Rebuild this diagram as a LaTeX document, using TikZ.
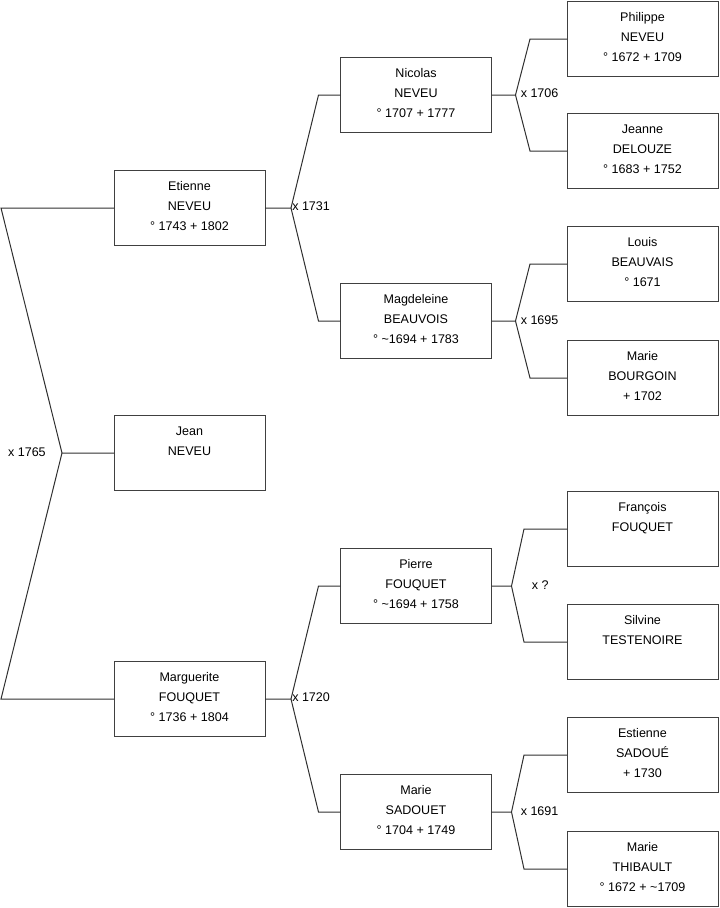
\documentclass[tikz,border=0pt]{standalone}
\usepackage{fontspec}
\setmainfont{Liberation Sans}
\usetikzlibrary{calc}
\definecolor{boxline}{HTML}{404040}
\definecolor{linkline}{HTML}{303030}
\tikzset{
  person/.style={draw=boxline,line width=0.75pt,minimum width=113.25pt,minimum height=56.25pt,
    inner sep=0pt,outer sep=0pt,align=center,text depth=3pt,font=\fontsize{9.4}{15}\selectfont},
  link/.style={linkline,line width=0.75pt},
  wedding/.style={inner sep=1.5pt,font=\fontsize{9.4}{11}\selectfont}
}

\begin{document}
\begin{tikzpicture}[x=0.75pt,y=-0.75pt]
\useasboundingbox (0,0) rectangle (719,908);
% generation 1 and 2
\node[person] (etienne) at (189.5,208) {Etienne\\NEVEU\\° 1743 + 1802};
\node[person] (jean) at (189.5,453) {Jean\\NEVEU\\~};
\node[person] (marguerite) at (189.5,699) {Marguerite\\FOUQUET\\° 1736 + 1804};
% generation 3
\node[person] (nicolas) at (416,95) {Nicolas\\NEVEU\\° 1707 + 1777};
\node[person] (magdeleine) at (416,321) {Magdeleine\\BEAUVOIS\\° \textasciitilde1694 + 1783};
\node[person] (pierre) at (416,586) {Pierre\\FOUQUET\\° \textasciitilde1694 + 1758};
\node[person] (sadouet) at (416,812) {Marie\\SADOUET\\° 1704 + 1749};
% generation 4
\node[person] (philippe) at (642.5,39) {Philippe\\NEVEU\\° 1672 + 1709};
\node[person] (jeanne) at (642.5,151) {Jeanne\\DELOUZE\\° 1683 + 1752};
\node[person] (louis) at (642.5,264) {Louis\\BEAUVAIS\\° 1671};
\node[person] (bourgoin) at (642.5,378) {Marie\\BOURGOIN\\+ 1702};
\node[person] (francois) at (642.5,529) {François\\FOUQUET\\~};
\node[person] (silvine) at (642.5,642) {Silvine\\TESTENOIRE\\~};
\node[person] (estienne) at (642.5,755) {Estienne\\SADOUÉ\\+ 1730};
\node[person] (thibault) at (642.5,869) {Marie\\THIBAULT\\° 1672 + \textasciitilde1709};

% forks
\coordinate (f1765) at ($(jean.west)+(-52,0)$);
\coordinate (f1731) at ($(etienne.east)+(26,0)$);
\coordinate (f1720) at ($(marguerite.east)+(26,0)$);
\coordinate (f1706) at ($(nicolas.east)+(24,0)$);
\coordinate (f1695) at ($(magdeleine.east)+(24,0)$);
\coordinate (fpierre) at ($(pierre.east)+(20,0)$);
\coordinate (f1691) at ($(sadouet.east)+(20,0)$);

\draw[link] (jean.west) -- (f1765) -- ($(etienne.west)+(-113,0)$) -- (etienne.west);
\draw[link] (f1765) -- ($(marguerite.west)+(-113,0)$) -- (marguerite.west);
\draw[link] (etienne.east) -- (f1731) -- ($(nicolas.west)+(-22,0)$) -- (nicolas.west);
\draw[link] (f1731) -- ($(magdeleine.west)+(-22,0)$) -- (magdeleine.west);
\draw[link] (marguerite.east) -- (f1720) -- ($(pierre.west)+(-22,0)$) -- (pierre.west);
\draw[link] (f1720) -- ($(sadouet.west)+(-22,0)$) -- (sadouet.west);
\draw[link] (nicolas.east) -- (f1706) -- ($(philippe.west)+(-37,0)$) -- (philippe.west);
\draw[link] (f1706) -- ($(jeanne.west)+(-37,0)$) -- (jeanne.west);
\draw[link] (magdeleine.east) -- (f1695) -- ($(louis.west)+(-37,0)$) -- (louis.west);
\draw[link] (f1695) -- ($(bourgoin.west)+(-37,0)$) -- (bourgoin.west);
\draw[link] (pierre.east) -- (fpierre) -- ($(francois.west)+(-43,0)$) -- (francois.west);
\draw[link] (fpierre) -- ($(silvine.west)+(-43,0)$) -- (silvine.west);
\draw[link] (sadouet.east) -- (f1691) -- ($(estienne.west)+(-43,0)$) -- (estienne.west);
\draw[link] (f1691) -- ($(thibault.west)+(-43,0)$) -- (thibault.west);

% marriage labels
\node[wedding,anchor=east] (m1765) at ($(f1765)+(-14,-1)$) {x 1765};
\node[wedding,anchor=west] (m1731) at ($(f1731)+(-1,-2)$) {x 1731};
\node[wedding,anchor=west] (m1720) at ($(f1720)+(-1,-2)$) {x 1720};
\node[wedding,anchor=west] (m1706) at ($(f1706)+(3,-2)$) {x 1706};
\node[wedding,anchor=west] (m1695) at ($(f1695)+(3,-1)$) {x 1695};
\node[wedding,anchor=west] (mpierre) at ($(fpierre)+(18,-1)$) {x ?};
\node[wedding,anchor=west] (m1691) at ($(f1691)+(7,-1)$) {x 1691};
\end{tikzpicture}
\end{document}
